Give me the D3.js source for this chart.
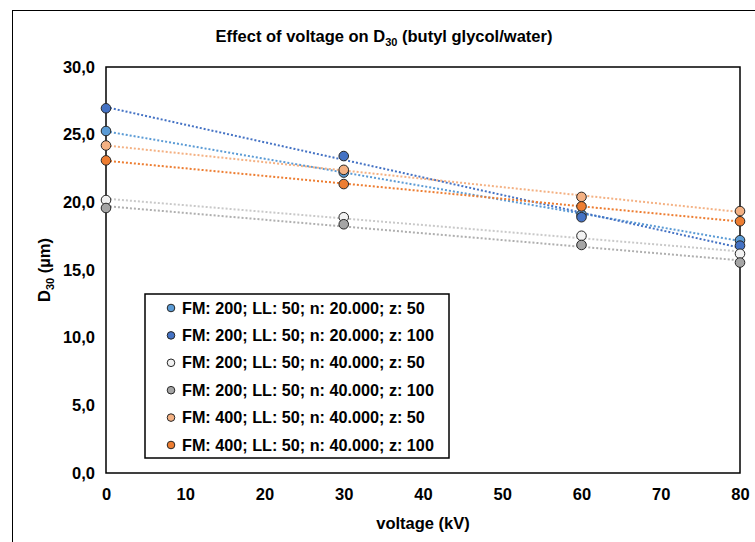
<!DOCTYPE html>
<html>
<head>
<meta charset="utf-8">
<script src="https://cdn.jsdelivr.net/npm/d3@7"></script>
<style>
  body { margin: 0; background: #fff; }
  svg { display: block; font-family: "Liberation Sans", Arial, sans-serif; }
</style>
</head>
<body>
<svg id="chart" width="755" height="542"></svg>
<script>
// data
const voltages = [0, 30, 60, 80]
const seriesNames = [
  "FM: 200; LL: 50; n: 20.000; z: 50",
  "FM: 200; LL: 50; n: 20.000; z: 100",
  "FM: 200; LL: 50; n: 40.000; z: 50",
  "FM: 200; LL: 50; n: 40.000; z: 100",
  "FM: 400; LL: 50; n: 40.000; z: 50",
  "FM: 400; LL: 50; n: 40.000; z: 100"
]
const fm200n20z50 = [25.27, 22.2, 19.1, 17.2]
const fm200n20z100 = [26.95, 23.42, 18.9, 16.8]
const fm200n40z50 = [20.17, 18.9, 17.53, 16.2]
const fm200n40z100 = [19.58, 18.38, 16.85, 15.55]
const fm400n40z50 = [24.2, 22.4, 20.4, 19.35]
const fm400n40z100 = [23.1, 21.35, 19.7, 18.6]
const fillColors = ["#5B9BD5", "#4472C4", "#F2F2F2", "#A5A5A5", "#F4B183", "#ED7D31"]
const lineColors = ["#5B9BD5", "#4472C4", "#C9C9C9", "#AFAFAF", "#F4B183", "#ED7D31"]
const xTicks = [0, 10, 20, 30, 40, 50, 60, 70, 80]
const yTicks = [0, 5, 10, 15, 20, 25, 30]

const allSeries = [fm200n20z50, fm200n20z100, fm200n40z50, fm200n40z100, fm400n40z50, fm400n40z100]

const svg = d3.select("#chart")

// chart area border
svg.append("rect")
  .attr("x", 12.5).attr("y", 10.5)
  .attr("width", 800).attr("height", 600)
  .attr("fill", "#fff").attr("stroke", "#000").attr("stroke-width", 1)

const plotL = 106, plotR = 740, plotT = 67, plotB = 473

const x = d3.scaleLinear().domain([0, 80]).range([plotL, plotR])
const y = d3.scaleLinear().domain([0, 30]).range([plotB, plotT])

// plot area box
svg.append("rect")
  .attr("x", plotL).attr("y", plotT)
  .attr("width", plotR - plotL).attr("height", plotB - plotT)
  .attr("fill", "none").attr("stroke", "#000").attr("stroke-width", 1.5)

// axes (labels only, like excel)
const xAxis = svg.append("g")
  .attr("transform", `translate(0,${plotB})`)
  .call(d3.axisBottom(x).tickValues(xTicks).tickSize(0).tickPadding(15))
xAxis.select(".domain").remove()
xAxis.selectAll("text")
  .attr("font-size", "16.5px").attr("font-weight", "bold").attr("fill", "#000")
  .attr("font-family", "Liberation Sans, sans-serif")

const yAxis = svg.append("g")
  .attr("transform", `translate(${plotL},0)`)
  .call(d3.axisLeft(y).tickValues(yTicks).tickSize(0).tickPadding(11)
    .tickFormat(d => d3.format(".1f")(d).replace(".", ",")))
yAxis.select(".domain").remove()
yAxis.selectAll("text")
  .attr("font-size", "16.5px").attr("font-weight", "bold").attr("fill", "#000")
  .attr("font-family", "Liberation Sans, sans-serif")

// linear trendlines
function linFit(xs, ys) {
  const mx = d3.mean(xs), my = d3.mean(ys)
  let sxy = 0, sxx = 0
  for (let i = 0; i < xs.length; i++) {
    sxy += (xs[i] - mx) * (ys[i] - my)
    sxx += (xs[i] - mx) * (xs[i] - mx)
  }
  const b = sxy / sxx
  return { a: my - b * mx, b: b }
}

allSeries.forEach(function (vals, i) {
  const f = linFit(voltages, vals)
  const x0 = d3.min(voltages), x1 = d3.max(voltages)
  svg.append("line")
    .attr("x1", x(x0)).attr("y1", y(f.a + f.b * x0))
    .attr("x2", x(x1)).attr("y2", y(f.a + f.b * x1))
    .attr("stroke", lineColors[i])
    .attr("stroke-width", 2)
    .attr("stroke-dasharray", "2,2")
})

// markers
allSeries.forEach(function (vals, i) {
  svg.append("g").selectAll("circle")
    .data(vals)
    .enter()
    .append("circle")
      .attr("cx", function (d, j) { return x(voltages[j]) })
      .attr("cy", function (d) { return y(d) })
      .attr("r", 4.8)
      .attr("fill", fillColors[i])
      .attr("stroke", "#262626")
      .attr("stroke-width", 1)
})

// title
const title = svg.append("text")
  .attr("x", 384).attr("y", 42)
  .attr("text-anchor", "middle")
  .attr("font-size", "16.5px").attr("font-weight", "bold")
title.append("tspan").text("Effect of voltage on D")
title.append("tspan").text("30").attr("font-size", "11px").attr("dy", 4)
title.append("tspan").text(" (butyl glycol/water)").attr("dy", -4)

// x label
svg.append("text")
  .attr("x", 423).attr("y", 529)
  .attr("text-anchor", "middle")
  .attr("font-size", "16.5px").attr("font-weight", "bold")
  .text("voltage (kV)")

// y label
const yl = svg.append("text")
  .attr("transform", "translate(50,270) rotate(-90)")
  .attr("text-anchor", "middle")
  .attr("font-size", "16.5px").attr("font-weight", "bold")
yl.append("tspan").text("D")
yl.append("tspan").text("30").attr("font-size", "11px").attr("dy", 4)
yl.append("tspan").text(" (µm)").attr("dy", -4)

// legend
const legX = 145, legY = 294, legW = 304, legH = 164, legStep = 27.4
svg.append("rect")
  .attr("x", legX).attr("y", legY)
  .attr("width", legW).attr("height", legH)
  .attr("fill", "#fff").attr("stroke", "#000").attr("stroke-width", 1.5)

const leg = svg.append("g").selectAll("g")
  .data(seriesNames)
  .enter()
  .append("g")
    .attr("transform", function (d, i) { return `translate(${legX + 26},${legY + 14 + i * legStep})` })

leg.append("circle")
  .attr("r", 3.8)
  .attr("fill", function (d, i) { return fillColors[i] })
  .attr("stroke", "#262626").attr("stroke-width", 1)

leg.append("text")
  .attr("x", 11).attr("dy", "0.35em")
  .attr("font-size", "16.2px").attr("font-weight", "bold")
  .text(function (d) { return d })
</script>
</body>
</html>
